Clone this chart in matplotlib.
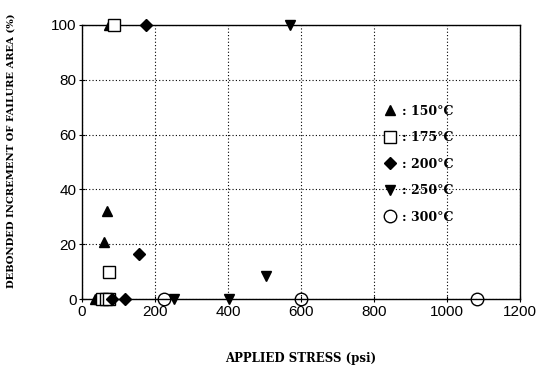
import matplotlib
matplotlib.use("Agg")
import matplotlib.pyplot as plt

# data
t150_x = [74, 68, 60, 35, 45, 55, 65]
t150_y = [100, 32, 21, 0, 0, 0, 0]
t175_x = [88, 74, 55, 65, 75]
t175_y = [100, 10, 0, 0, 0]
t200_x = [175, 156, 82, 118]
t200_y = [100, 16.5, 0, 0]
t250_x = [570, 503, 252, 403]
t250_y = [100, 8.5, 0, 0]
t300_x = [225, 600, 1082]
t300_y = [0, 0, 0]
labels = [": 150°C", ": 175°C", ": 200°C", ": 250°C", ": 300°C"]

fig = plt.figure(figsize=(5.4, 3.72), dpi=100)
ax = fig.add_axes([0.152, 0.196, 0.811, 0.737])

ms = 7
kw = dict(linestyle='none', clip_on=False, zorder=5)
ax.plot(t150_x, t150_y, marker='^', color='black', markersize=ms, label=labels[0], **kw)
ax.plot(t175_x, t175_y, marker='s', markerfacecolor='white', markeredgecolor='black',
        markersize=ms + 1, markeredgewidth=1.0, label=labels[1], **kw)
ax.plot(t200_x, t200_y, marker='D', color='black', markersize=ms - 1, label=labels[2], **kw)
ax.plot(t250_x, t250_y, marker='v', color='black', markersize=ms, label=labels[3], **kw)
ax.plot(t300_x, t300_y, marker='o', markerfacecolor='none', markeredgecolor='black',
        markersize=ms + 2, markeredgewidth=1.0, label=labels[4], **kw)

ax.set_xlim(0, 1200)
ax.set_ylim(0, 100)
ax.set_xticks(range(0, 1201, 200))
ax.set_yticks(range(0, 101, 20))
ax.grid(True, linestyle=(0, (1, 2)), color='black', linewidth=0.8)
ax.set_axisbelow(True)
for s in ax.spines.values():
    s.set_linewidth(1.0)
ax.tick_params(direction='inout', length=5, width=0.8, labelsize=11, pad=1.5)
for lab in ax.get_xticklabels() + ax.get_yticklabels():
    lab.set_family('Liberation Sans')

ax.set_xlabel('APPLIED STRESS (psi)', family='DejaVu Serif', fontweight='bold',
              fontsize=8.5, labelpad=24)
ax.set_ylabel('DEBONDED INCREMENT OF FAILURE AREA (%)', family='DejaVu Serif',
              fontweight='bold', fontsize=7.2)
ax.yaxis.set_label_coords(-0.153, 0.54)

leg = ax.legend(loc='upper left', bbox_to_anchor=(0.66, 0.75), frameon=False,
                handletextpad=0.35, labelspacing=1.08, handlelength=1.2,
                prop={'family': 'DejaVu Serif', 'weight': 'bold', 'size': 9})

fig.savefig('out.png', dpi=100)
